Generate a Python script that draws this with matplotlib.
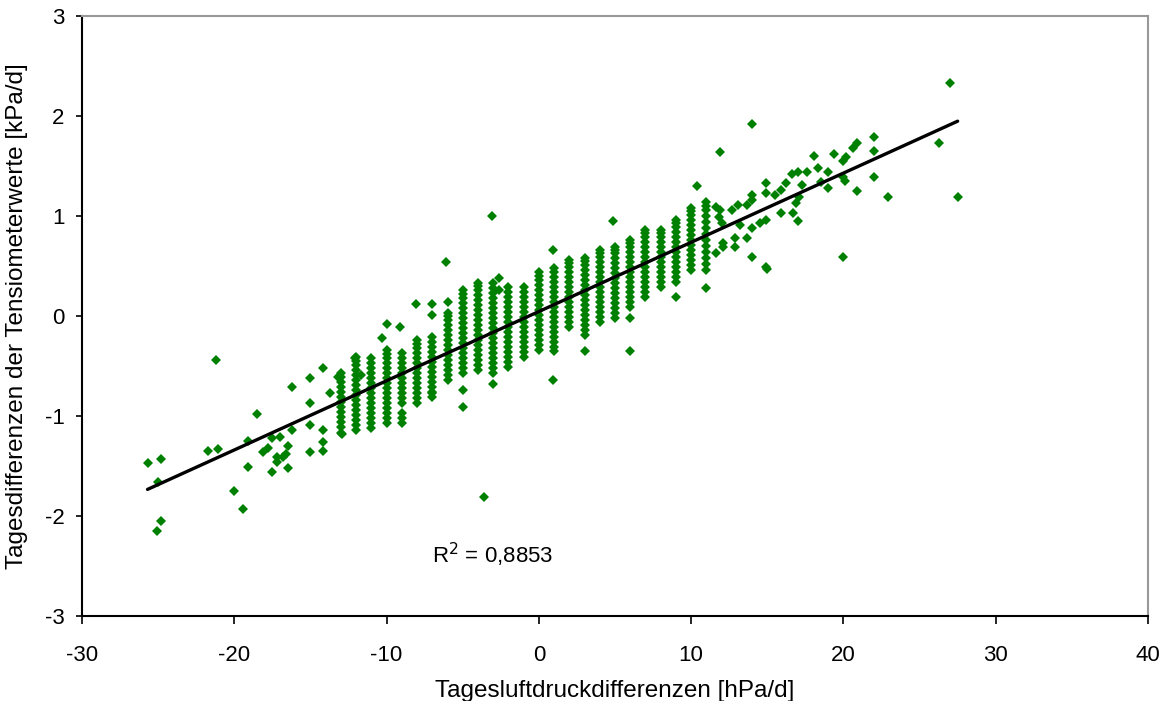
import matplotlib.pyplot as plt
import numpy as np

plt.rcParams['font.family'] = ['Liberation Sans', 'DejaVu Sans']
plt.rcParams['axes.unicode_minus'] = False

# dense columns: daily pressure difference (hPa/d) -> tensiometer differences (kPa/d)
col_x = [-13, -12, -11, -10, -9, -8, -7, -6, -5, -4, -3, -2, -1,
         0, 1, 2, 3, 4, 5, 6, 7, 8, 9, 10, 11]
col_y = [
    [-1.11, -1.06, -1.01, -0.96, -0.91, -0.86, -0.81, -0.76, -0.71, -0.66, -0.61, -0.57],
    [-1.14, -1.09, -1.04, -0.99, -0.94, -0.89, -0.84, -0.79, -0.74, -0.69, -0.64, -0.59,
     -0.54, -0.49, -0.45, -0.41],
    [-1.12, -1.07, -1.02, -0.97, -0.92, -0.87, -0.82, -0.77, -0.72, -0.67, -0.62, -0.57,
     -0.52, -0.47, -0.42],
    [-1.07, -1.02, -0.97, -0.92, -0.87, -0.82, -0.77, -0.72, -0.67, -0.62, -0.57, -0.52,
     -0.47, -0.42, -0.38, -0.34],
    [-1.07, -1.02, -0.97, -0.87, -0.82, -0.77, -0.72, -0.67, -0.62, -0.57, -0.52, -0.47,
     -0.42, -0.37],
    [-0.87, -0.82, -0.77, -0.72, -0.67, -0.62, -0.57, -0.52, -0.47, -0.42, -0.37, -0.32,
     -0.28, -0.24],
    [-0.81, -0.76, -0.71, -0.66, -0.61, -0.56, -0.51, -0.46, -0.41, -0.36, -0.31, -0.26,
     -0.21],
    [-0.64, -0.59, -0.54, -0.49, -0.44, -0.39, -0.34, -0.29, -0.24, -0.19, -0.14, -0.09,
     -0.04, 0.0, 0.03],
    [-0.57, -0.52, -0.47, -0.42, -0.37, -0.32, -0.27, -0.22, -0.17, -0.12, -0.07, -0.02,
     0.03, 0.08, 0.13, 0.18, 0.22, 0.26],
    [-0.54, -0.49, -0.44, -0.39, -0.34, -0.29, -0.24, -0.19, -0.14, -0.09, -0.04, 0.01,
     0.06, 0.11, 0.16, 0.21, 0.26, 0.30, 0.33],
    [-0.57, -0.52, -0.47, -0.42, -0.37, -0.32, -0.27, -0.22, -0.17, -0.12, -0.07, -0.02,
     0.03, 0.08, 0.13, 0.18, 0.23, 0.28, 0.33],
    [-0.51, -0.46, -0.41, -0.36, -0.31, -0.26, -0.21, -0.16, -0.11, -0.06, -0.01, 0.04,
     0.09, 0.14, 0.19, 0.24, 0.29],
    [-0.41, -0.36, -0.31, -0.26, -0.21, -0.16, -0.11, -0.06, -0.01, 0.04, 0.09, 0.14,
     0.19, 0.24, 0.29],
    [-0.34, -0.29, -0.24, -0.19, -0.14, -0.09, -0.04, 0.01, 0.06, 0.11, 0.16, 0.21,
     0.26, 0.31, 0.36, 0.40, 0.44],
    [-0.31, -0.26, -0.21, -0.16, -0.11, -0.06, -0.01, 0.04, 0.09, 0.14, 0.19, 0.24,
     0.29, 0.34, 0.39, 0.44, 0.48],
    [-0.11, -0.06, -0.01, 0.04, 0.09, 0.14, 0.19, 0.24, 0.29, 0.34, 0.39, 0.44,
     0.49, 0.53, 0.56],
    [-0.19, -0.14, -0.09, -0.04, 0.01, 0.06, 0.11, 0.16, 0.21, 0.26, 0.31, 0.36,
     0.41, 0.46, 0.51, 0.55, 0.58],
    [-0.06, -0.01, 0.04, 0.09, 0.14, 0.19, 0.24, 0.29, 0.34, 0.39, 0.44, 0.49,
     0.54, 0.59, 0.63, 0.66],
    [-0.02, 0.03, 0.08, 0.13, 0.18, 0.23, 0.28, 0.33, 0.38, 0.43, 0.48, 0.53,
     0.58, 0.63, 0.66, 0.69],
    [0.09, 0.14, 0.19, 0.24, 0.29, 0.34, 0.39, 0.44, 0.49, 0.54, 0.59, 0.64,
     0.69, 0.73, 0.76],
    [0.19, 0.24, 0.29, 0.34, 0.39, 0.44, 0.49, 0.54, 0.59, 0.64, 0.69, 0.74,
     0.79, 0.83, 0.86],
    [0.29, 0.34, 0.39, 0.44, 0.49, 0.54, 0.59, 0.64, 0.69, 0.74, 0.79, 0.83, 0.86],
    [0.34, 0.39, 0.44, 0.49, 0.54, 0.59, 0.64, 0.69, 0.74, 0.79, 0.84, 0.89, 0.93, 0.96],
    [0.46, 0.51, 0.56, 0.61, 0.66, 0.71, 0.76, 0.81, 0.86, 0.91, 0.96, 1.01, 1.05, 1.08],
    [0.46, 0.52, 0.58, 0.64, 0.70, 0.76, 0.82, 0.88, 0.94, 1.00, 1.06, 1.10, 1.14],
]

# scattered single days
pts_x = [-25.7, -24.8, -25.0, -24.8, -25.1, -21.2, -21.7, -21.1, -20.0, -19.4,
         -19.1, -19.1, -18.5, -18.1, -17.8, -17.5, -17.2, -17.5, -17.0, -17.2,
         -16.5, -16.5, -16.8, -16.6, -16.2, -16.2, -15.0, -15.0, -15.0, -15.0,
         -14.2, -14.2, -14.2, -14.2, -13.7, -13.2, -12.9, -13.0, -12.1, -11.7,
         -10.3, -10.0, -9.1, -8.1, -7.0, -7.0, -7.0, -6.0, -6.1, -5.0,
         -5.0, -3.1, -3.0, -2.6, -2.6, -3.6, 0.9, 0.9, 1.0, 3.0,
         4.9, 6.0, 6.0, 9.0, 10.4, 11.0,
         11.6, 11.9, 11.8, 12.0, 11.6, 12.1, 12.1, 12.7, 13.1, 12.9,
         12.9, 13.7, 13.7, 14.0, 14.0, 14.0, 14.0, 13.2, 14.5, 14.9,
         14.9, 14.9, 14.9, 15.0, 15.5, 15.9, 16.2, 15.9, 16.6, 17.0,
         17.6, 17.3, 17.1, 16.9, 16.7, 17.0, 18.1, 18.3, 19.0, 19.4,
         19.0, 18.5, 11.9, 14.0, 27.0, 27.5, 26.3, 22.9, 22.0, 22.0,
         22.0, 20.9, 20.6, 20.2, 20.0, 20.0, 20.1, 20.9, 20.0]
pts_y = [-1.47, -1.43, -1.66, -2.05, -2.15, -0.44, -1.35, -1.33, -1.75, -1.93,
         -1.25, -1.51, -0.98, -1.36, -1.32, -1.56, -1.41, -1.22, -1.21, -1.46,
         -1.30, -1.52, -1.41, -1.38, -0.71, -1.14, -0.62, -0.87, -1.09, -1.36,
         -0.52, -1.14, -1.26, -1.35, -0.77, -0.61, -1.18, -1.17, -0.42, -0.59,
         -0.22, -0.08, -0.11, 0.12, 0.12, 0.01, -0.77, 0.14, 0.54, -0.74,
         -0.91, 1.00, -0.68, 0.38, 0.26, -1.81, 0.66, -0.64, -0.35, -0.35,
         0.95, -0.35, -0.02, 0.19, 1.30, 0.28,
         1.09, 1.06, 0.99, 0.93, 0.63, 0.73, 0.69, 1.06, 1.11, 0.69,
         0.78, 1.11, 0.78, 1.21, 1.16, 0.88, 0.59, 0.91, 0.93, 1.33,
         1.23, 0.96, 0.49, 0.47, 1.21, 1.26, 1.33, 1.03, 1.42, 1.44,
         1.44, 1.31, 1.19, 1.13, 1.03, 0.95, 1.60, 1.48, 1.44, 1.62,
         1.28, 1.34, 1.64, 1.92, 2.33, 1.19, 1.73, 1.19, 1.79, 1.65,
         1.39, 1.73, 1.68, 1.59, 1.55, 1.39, 1.35, 1.25, 0.59]

r2_label = 'R$^2$ = 0,8853'

x = np.concatenate([np.full(len(ys), cx, dtype=float) for cx, ys in zip(col_x, col_y)] + [pts_x])
y = np.concatenate([np.array(ys) for ys in col_y] + [pts_y])

fig = plt.figure(figsize=(11.67, 7.01), dpi=100)
ax = fig.add_axes([0.0703, 0.1213, 0.9134, 0.8559])

ax.plot(x, y, linestyle='none', marker='D', markersize=5.4,
        color='#008000', markeredgewidth=0)

# linear trend over the data range
slope, icpt = np.polyfit(x, y, 1)
xl = np.array([x.min(), x.max()])
ax.plot(xl, slope * xl + icpt, color='black', linewidth=2.4, solid_capstyle='round')

ax.text(-7.05, -2.39, r2_label, fontsize=16, va='center', ha='left')

ax.set_xlim(-30, 40)
ax.set_ylim(-3, 3)
ax.set_xticks(range(-30, 41, 10))
ax.set_yticks(range(-3, 4))
ax.tick_params(axis='x', direction='out', length=6, width=1.2, labelsize=16, pad=15, color='black')
ax.tick_params(axis='y', direction='out', length=4.5, width=1.2, labelsize=16, pad=8, color='black')

for side in ('left', 'bottom'):
    ax.spines[side].set_color('black')
    ax.spines[side].set_linewidth(1.5)
for side in ('top', 'right'):
    ax.spines[side].set_color('#999999')
    ax.spines[side].set_linewidth(1.5)

ax.set_xlabel('Tagesluftdruckdifferenzen [hPa/d]', fontsize=17.5, labelpad=10)
ax.set_ylabel('Tagesdifferenzen der Tensiometerwerte [kPa/d]', fontsize=17.5, labelpad=12)

fig.savefig('out.png', dpi=100)
